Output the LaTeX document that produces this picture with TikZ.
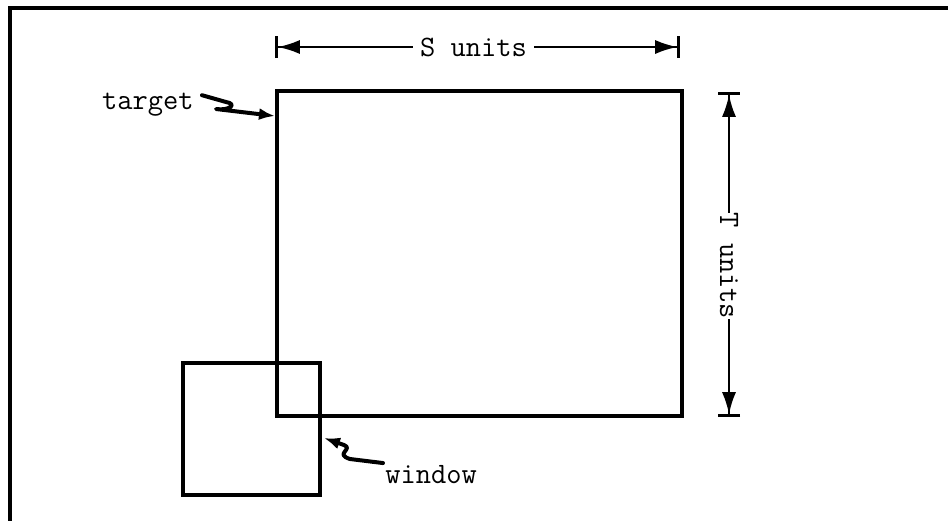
\documentclass[tikz,border=0pt]{standalone}
\usepackage{tikz}
\usetikzlibrary{arrows.meta}

\begin{document}
\begin{tikzpicture}[
    x=0.5pt, y=-0.5pt,
    outline/.style={line width=1.6pt, line join=miter},
    lbl/.style={inner sep=0pt, font=\ttfamily\fontsize{14.8}{17}\selectfont},
    dim/.style={line width=1pt, {Bar[width=11pt,line width=1.4pt]Latex[length=11pt,width=7pt]}-{Latex[length=11pt,width=7pt]Bar[width=11pt,line width=1.4pt]}},
    squig/.style={line width=2pt, line cap=round, line join=round, -{Latex[length=8pt,width=6pt]}}
]
    \useasboundingbox (0,0) rectangle (948,521);

    % Frame
    \draw[line width=1.6pt] (948,8) -- (10,8) -- (10,521);

    % Target and window
    \draw[outline] (277,91) rectangle (682,416);
    \draw[outline] (183,363) rectangle (320,495);

    % S units
    \coordinate (sl) at (275,47);
    \coordinate (sr) at (680,47);
    \draw[dim] (sl) -- (sr) node[lbl, pos=0.49, fill=white, inner xsep=3.5pt] (slbl) {S units};

    % T units
    \coordinate (tt) at (729,92);
    \coordinate (tb) at (729,417);
    \draw[dim] (tt) -- (tb) node[lbl, pos=0.535, fill=white, inner ysep=3.5pt, rotate=-90] (tlbl) {T units};

    % Labels
    \node[lbl, anchor=base east] (tgtlbl) at (194,109) {target};
    \coordinate (tgthit) at (275,116);
    \draw[squig] (tgtlbl.east) ++(8,-9) -- (226,102) .. controls (238,104) and (229,111) .. (216,109) -- (tgthit);

    \node[lbl, anchor=base west] (winlbl) at (385,483) {window};
    \coordinate (winhit) at (324,438);
    \draw[squig] (winlbl.west) ++(-2,-11) -- (350,459) .. controls (334,454) and (354,449) .. (344,445) -- (winhit);
\end{tikzpicture}
\end{document}
